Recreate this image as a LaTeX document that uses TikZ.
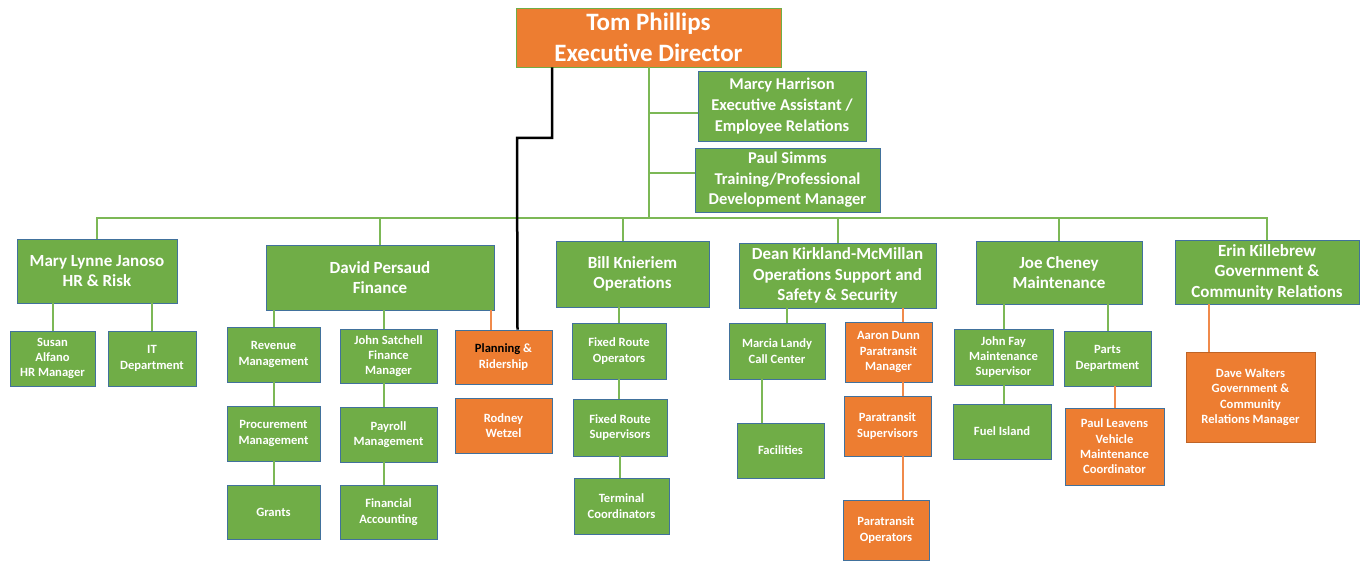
\documentclass[tikz,border=0pt]{standalone}
\usepackage{fontspec}
\setmainfont{Carlito}
\usepackage{tikz}
\definecolor{boxgreen}{HTML}{70AD47}
\definecolor{boxorange}{HTML}{ED7D31}
\definecolor{boxedge}{HTML}{41719C}
\definecolor{linegreen}{HTML}{7CB856}
\definecolor{lineorange}{HTML}{F08A4B}
\tikzstyle{gbox} = [rectangle, 
fill=boxgreen, 
draw=boxedge, 
line width=0.8pt, 
text=white, 
align=center, 
inner sep=0pt, 
font=\fontsize{12.6}{15.3}\selectfont\bfseries]
\tikzstyle{obox} = [gbox, fill=boxorange]
\tikzstyle{headbox} = [gbox, font=\fontsize{17}{20.5}\selectfont\bfseries]
\tikzstyle{gline} = [draw=linegreen, line width=2pt]
\tikzstyle{oline} = [draw=lineorange, line width=2pt]
\tikzstyle{bline} = [draw=black, line width=2.5pt]

\begin{document}
\begin{tikzpicture}[x=1pt, y=-1pt]
		\useasboundingbox (0,0) rectangle (1366,561);
		\node (tom) [obox, draw=boxgreen, minimum width=265, minimum height=59, font=\fontsize{25}{31}\selectfont\bfseries] at (648.5,37.5) {Tom Phillips\\Executive Director};
		\node (marcy) [headbox, font=\fontsize{16.5}{21}\selectfont\bfseries, minimum width=168, minimum height=70] at (782,106) {Marcy Harrison\\Executive Assistant /\\Employee Relations};
		\node (simms) [headbox, font=\fontsize{16.5}{20.5}\selectfont\bfseries, minimum width=185, minimum height=64] at (787.5,180) {Paul Simms\\Training/Professional\\Development Manager};
		
		\node (mary) [headbox, minimum width=160, minimum height=64] at (97,271) {Mary Lynne Janoso\\HR \& Risk};
		\node (susan) [gbox, minimum width=85, minimum height=55] at (52.5,358.5) {Susan\\Alfano\\HR Manager};
		\node (it) [gbox, minimum width=88, minimum height=55] at (152,358.5) {IT\\Department};
		
		\node (david) [headbox, minimum width=228, minimum height=65] at (380,277.5) {David Persaud\\Finance};
		\node (revenue) [gbox, minimum width=93, minimum height=55] at (273.5,354.5) {Revenue\\Management};
		\node (procure) [gbox, minimum width=93, minimum height=55] at (273.5,433.5) {Procurement\\Management};
		\node (grants) [gbox, minimum width=93, minimum height=54] at (273.5,512) {Grants};
		\node (satchell) [gbox, minimum width=97, minimum height=54] at (388.5,356) {John Satchell\\Finance\\Manager};
		\node (payroll) [gbox, minimum width=97, minimum height=55] at (388.5,434.5) {Payroll\\Management};
		\node (accounting) [gbox, minimum width=97, minimum height=54] at (388.5,512) {Financial\\Accounting};
		\node (planning) [obox, minimum width=97, minimum height=54] at (503.5,357) {{\color{black}Planning} \&\\Ridership};
		\node (rodney) [obox, minimum width=97, minimum height=55] at (503.5,425.5) {Rodney\\Wetzel};
		
		\node (bill) [headbox, minimum width=153, minimum height=66] at (632.5,274) {Bill Knieriem\\Operations};
		\node (froper) [gbox, minimum width=94, minimum height=56] at (619,351) {Fixed Route\\Operators};
		\node (frsuper) [gbox, minimum width=94, minimum height=57] at (620,427.5) {Fixed Route\\Supervisors};
		\node (terminal) [gbox, minimum width=95, minimum height=56] at (621.5,506) {Terminal\\Coordinators};
		
		\node (dean) [headbox, minimum width=197, minimum height=65] at (837.5,275.5) {Dean Kirkland-McMillan\\Operations Support and\\Safety \& Security};
		\node (marcia) [gbox, minimum width=96, minimum height=56] at (777,351) {Marcia Landy\\Call Center};
		\node (facilities) [gbox, minimum width=87, minimum height=55] at (780.5,450.5) {Facilities};
		\node (aaron) [obox, minimum width=87, minimum height=60] at (888.5,352) {Aaron Dunn\\Paratransit\\Manager};
		\node (psuper) [obox, minimum width=87, minimum height=60] at (887.5,426) {Paratransit\\Supervisors};
		\node (poper) [obox, minimum width=86, minimum height=60] at (886,530) {Paratransit\\Operators};
		
		\node (joe) [headbox, minimum width=166, minimum height=63] at (1059,272.5) {Joe Cheney\\Maintenance};
		\node (fay) [gbox, minimum width=99, minimum height=56] at (1003.5,357) {John Fay\\Maintenance\\Supervisor};
		\node (parts) [gbox, minimum width=87, minimum height=55] at (1107.5,358.5) {Parts\\Department};
		\node (fuel) [gbox, minimum width=98, minimum height=55] at (1002,431.5) {Fuel Island};
		\node (leavens) [obox, minimum width=99, minimum height=77] at (1114.5,446.5) {Paul Leavens\\Vehicle\\Maintenance\\Coordinator};
		
		\node (erin) [headbox, minimum width=184, minimum height=64] at (1267,272) {Erin Killebrew\\Government \&\\Community Relations};
		\node (walters) [obox, draw=boxorange!80!black, minimum width=129, minimum height=90] at (1250.5,397) {Dave Walters\\Government \&\\Community\\Relations Manager};
		
		\coordinate (bus) at (648.5,218);
		\coordinate (bend) at (517,138);
		
		\draw [gline](tom.south) -- (bus);
		\draw [gline]([yshift=-7pt]marcy.west) -- ([yshift=-7pt]marcy.west -| bus);
		\draw [gline]([yshift=7pt]simms.west) -- ([yshift=7pt]simms.west -| bus);
		\draw [gline](mary.north) |- (bus);
		\draw [gline](david.north) |- (bus);
		\draw [gline]([xshift=-10pt]bill.north) |- (bus);
		\draw [gline](dean.north) |- (bus);
		\draw [gline](joe.north) |- (bus);
		\draw [gline](erin.north) |- (bus);
		
		\draw [gline](susan.north |- mary.south) -- (susan.north);
		\draw [gline](it.north |- mary.south) -- (it.north);
		
		\draw [gline](revenue.north |- david.south) -- (revenue.north);
		\draw [gline](revenue.south) -- (procure.north);
		\draw [gline](procure.south) -- (grants.north);
		\draw [gline]([xshift=-5pt]satchell.north |- david.south) -- ([xshift=-5pt]satchell.north);
		\draw [gline]([xshift=-5pt]satchell.south) -- ([xshift=-5pt]payroll.north);
		\draw [gline]([xshift=-5pt]payroll.south) -- ([xshift=-5pt]accounting.north);
		\draw [oline]([xshift=-13pt]planning.north |- david.south) -- ([xshift=-13pt]planning.north);
		
		\draw [gline](froper.north |- bill.south) -- (froper.north);
		\draw [gline](froper.south) -- (froper.south |- frsuper.north);
		\draw [gline](frsuper.south) -- (frsuper.south |- terminal.north);
		
		\draw [gline]([xshift=10pt]marcia.north |- dean.south) -- ([xshift=10pt]marcia.north);
		\draw [gline]([xshift=-15pt]marcia.south) -- ([xshift=-15pt]marcia.south |- facilities.north);
		\draw [oline]([xshift=14.5pt]aaron.north |- dean.south) -- ([xshift=14.5pt]aaron.north);
		\draw [oline]([xshift=14pt]aaron.south) -- ([xshift=14pt]aaron.south |- psuper.north);
		\draw [oline]([xshift=14pt]aaron.south |- psuper.south) -- ([xshift=14pt]aaron.south |- poper.north);
		
		\draw [gline](fay.north |- joe.south) -- (fay.north);
		\draw [gline](parts.north |- joe.south) -- (parts.north);
		\draw [gline](fay.south) -- (fay.south |- fuel.north);
		\draw [oline](leavens.north |- parts.south) -- (leavens.north);
		
		\draw [oline]([xshift=-42pt]walters.north |- erin.south) -- ([xshift=-42pt]walters.north);
		
		\draw [bline]([xshift=-96.5pt]tom.south) |- (bend) -- ([xshift=14pt]planning.north);
	\end{tikzpicture}
\end{document}
